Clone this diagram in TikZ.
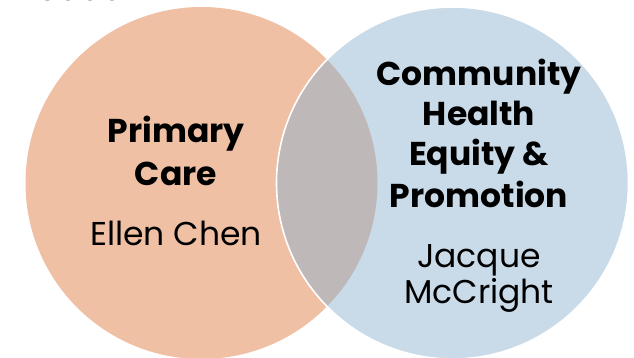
\documentclass[tikz,border=0pt]{standalone}
\usepackage{fontspec}
\setmainfont{Poppins}
\definecolor{pcorange}{HTML}{EFC0A4}
\definecolor{chblue}{HTML}{C9DBE9}
\definecolor{lensgray}{HTML}{BFB8B9}
\begin{document}
\begin{tikzpicture}[x=1pt,y=-1pt,
  headtext/.style={anchor=base,font=\fontsize{33}{38}\selectfont\bfseries,inner sep=0pt},
  persontext/.style={anchor=base,font=\fontsize{33}{38}\selectfont,inner sep=0pt}]
\useasboundingbox (0,0) rectangle (634,357);
\clip (0,0) rectangle (634,357);
\coordinate (cl) at (201.5,183);
\coordinate (cr) at (452.5,183);
\fill[pcorange] (cl) circle[radius=176];
\fill[chblue] (cr) circle[radius=176];
\begin{scope}
  \clip (cl) circle[radius=176];
  \fill[lensgray] (cr) circle[radius=176];
\end{scope}
\draw[white,line width=1.6pt] (cr) circle[radius=176];
\node[persontext] (title) at (72,0) {Leads};
\node[headtext] (p1) at (176,142) {Primary};
\node[headtext] (p2) at (176,185) {Care};
\node[persontext] (p3) at (176,245) {Ellen Chen};
\node[headtext] (c1) at (479,85) {Community};
\node[headtext] (c2) at (479,125) {Health};
\node[headtext] (c3) at (479,165) {Equity \&};
\node[headtext] (c4) at (479,207) {Promotion};
\node[persontext] (j1) at (479,267) {Jacque};
\node[persontext] (j2) at (479,303) {McCright};
\end{tikzpicture}
\end{document}
